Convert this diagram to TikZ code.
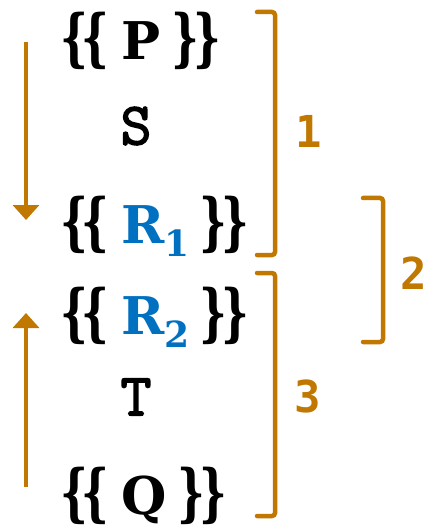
\documentclass[tikz,border=0pt]{standalone}
\usepackage{fontspec}
\setmainfont{DejaVu Serif}
\newfontfamily\kwfont[AutoFakeBold=2.5]{Latin Modern Mono}
\newfontfamily\numfont{DejaVu Sans Mono}
\definecolor{bronze}{HTML}{C07800}
\definecolor{rblue}{HTML}{0070C0}
\usetikzlibrary{arrows.meta}
\newcommand{\subr}[1]{\raisebox{-0.25em}{\fontsize{36}{36}\selectfont #1}}
\newcommand{\lb}{\scalebox{0.9}[1.3]{\fontsize{48}{48}\selectfont\bfseries\{\kern-0.15em\{}}
\newcommand{\rb}{\scalebox{0.9}[1.3]{\fontsize{48}{48}\selectfont\bfseries\}\kern-0.15em\}}}
\tikzset{
  tmpl/.style={anchor=west, inner sep=0pt, font=\bfseries\fontsize{52}{52}\selectfont},
  kw/.style={anchor=center, inner sep=0pt, font=\kwfont\bfseries\fontsize{60}{60}\selectfont},
  num/.style={anchor=center, inner sep=0pt, text=bronze, font=\numfont\bfseries\fontsize{44}{44}\selectfont},
  brk/.style={draw=bronze, line width=4.5pt, rounded corners=3pt, line cap=round},
  flow/.style={draw=bronze, line width=3.5pt, -{Triangle[length=15pt,width=26pt]}}
}
\begin{document}
\begin{tikzpicture}[x=1pt,y=-1pt]
\path[use as bounding box] (0,0) rectangle (429,529);
\node[tmpl] (p) at (60,41) {\lb\kern0.23em P\kern0.22em\rb};
\node[kw] (s) at (136,126) {S};
\node[tmpl] (r1) at (60,226) {\lb\kern0.23em\textcolor{rblue}{R\subr{1}}\kern0.2em\rb};
\node[tmpl] (r2) at (60,317) {\lb\kern0.23em\textcolor{rblue}{R\subr{2}}\kern0.2em\rb};
\node[kw] (t) at (136,397) {T};
\node[tmpl] (q) at (60,496) {\lb\kern0.23em Q\kern0.22em\rb};
\coordinate (a1s) at (26,42);
\coordinate (a1e) at (26,220);
\coordinate (a2s) at (26,487);
\coordinate (a2e) at (26,313);
\draw[flow] (a1s) -- (a1e);
\draw[flow] (a2s) -- (a2e);
\draw[brk] (257,12) -- (275,12) -- (275,255) -- (257,255);
\draw[brk] (257,273) -- (275,273) -- (275,516) -- (257,516);
\draw[brk] (363,198) -- (383,198) -- (383,342) -- (363,342);
\node[num] (n1) at (309,131) {1};
\node[num] (n2) at (414,273) {2};
\node[num] (n3) at (308,396) {3};
\end{tikzpicture}
\end{document}
